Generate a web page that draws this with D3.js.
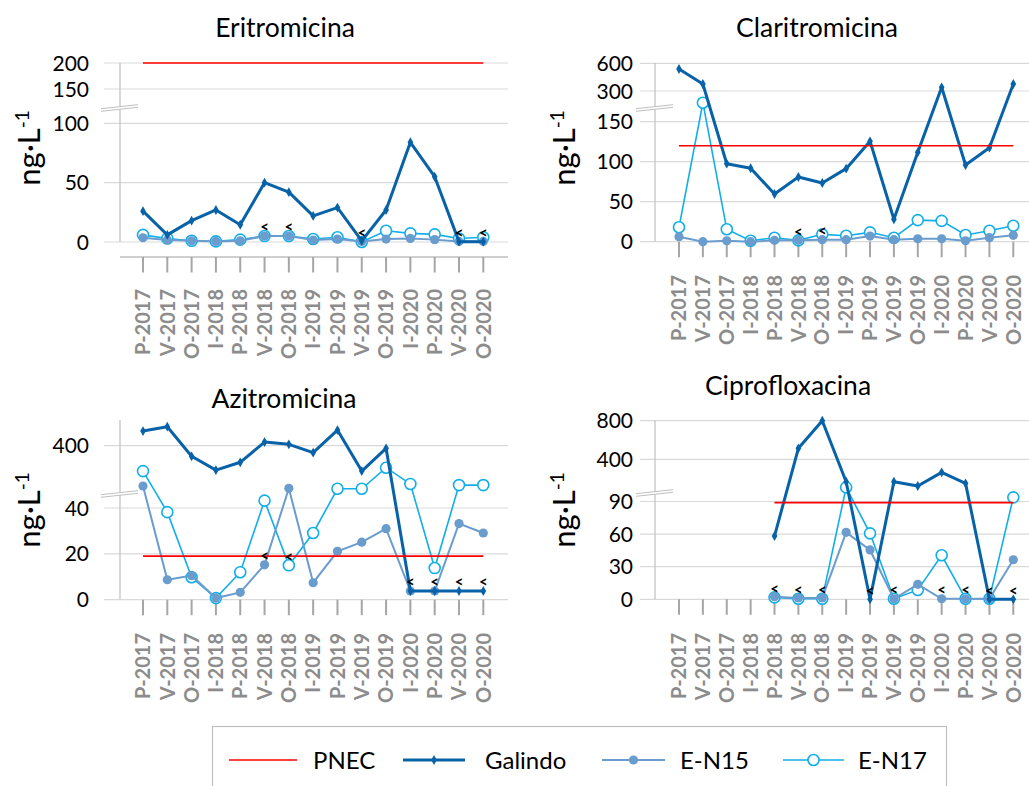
<!DOCTYPE html>
<html>
<head>
<meta charset="utf-8">
<script src="https://cdn.jsdelivr.net/npm/d3@7"></script>
<style>
  body { margin: 0; background: #fff; }
  svg { display: block; }
  text { font-family: Lato, "Noto Sans", sans-serif; }
</style>
</head>
<body>
<svg id="chart" width="1029" height="786"></svg>
<script>
// ---------------- DATA ----------------
const categories = ["P-2017","V-2017","O-2017","I-2018","P-2018","V-2018","O-2018","I-2019","P-2019","V-2019","O-2019","I-2020","P-2020","V-2020","O-2020"];
const seriesNames = ["PNEC", "Galindo", "E-N15", "E-N17"];

const eriGalindo = [26, 6, 18, 27, 14.5, 50, 42, 22, 29, 1, 27, 84, 55, 0.3, 0.3];
const eriEN15    = [3.6, 1.7, 1, 0.5, 1, 5, 5, 1.7, 2.5, 0.5, 2.5, 3, 2, 0.5, 0.5];
const eriEN17    = [6, 3, 1, 0.5, 2, 5, 5, 2.5, 4, 0, 9.5, 7.3, 6.4, 3, 4];
const eriPNEC    = [200, 200, 200, 200, 200, 200, 200, 200, 200, 200, 200, 200, 200, 200, 200];
const eriLT      = [5, 6, 9, 13, 14];
const eriTicksLow = [0, 50, 100];
const eriTicksHigh = [150, 200];

const claGalindo = [538, 376, 97.5, 91.8, 59.6, 80.9, 73.4, 91.3, 125.5, 28, 111.8, 340, 95.9, 117.5, 376];
const claEN15    = [6.2, 0, 1.2, 0, 1.7, 1.7, 2.5, 2.5, 7, 2.5, 3.7, 3.7, 1.2, 5, 8];
const claEN17    = [18, 173, 15.5, 1.2, 5, 1.7, 9.2, 7.5, 11.7, 5, 27, 26, 8.4, 13.7, 20];
const claPNEC    = [120, 120, 120, 120, 120, 120, 120, 120, 120, 120, 120, 120, 120, 120, 120];
const claLT      = [5, 6];
const claTicksLow = [0, 50, 100, 150];
const claTicksHigh = [300, 600];

const aziGalindo = [473, 495, 347, 278, 317, 418, 407, 365, 478, 273, 387, 3.8, 3.8, 3.8, 3.8];
const aziEN15    = [49.6, 8.7, 10.5, 0.7, 3.2, 15.2, 48.6, 7.4, 21.1, 25.1, 31, 3.8, 3.8, 33.2, 29.1];
const aziEN17    = [273, 38.2, 9.8, 0.7, 12, 43.2, 15, 29.1, 48.4, 48.4, 290, 50.5, 13.8, 50, 50];
const aziPNEC    = [19, 19, 19, 19, 19, 19, 19, 19, 19, 19, 19, 19, 19, 19, 19];
const aziLT      = [5, 6, 11, 12, 13, 14];
const aziTicksLow = [0, 20, 40];
const aziTicksHigh = [400];

const ciproGalindo = [null, null, null, null, 58.2, 514, 800, 168, 0, 168, 123, 265, 151, 0, 0];
const ciproEN15    = [null, null, null, null, 2.4, 1.2, 1.2, 61.6, 45.4, 0.5, 13.8, 0.5, 0.5, 0.5, 36.4];
const ciproEN17    = [null, null, null, null, 1.8, 0.5, 0.5, 103, 60.7, 0.5, 8.6, 40.5, 0.5, 0.5, 93.8];
const ciproPNEC    = [null, null, null, null, 89, 89, 89, 89, 89, 89, 89, 89, 89, 89, 89];
const ciproLT      = [4, 5, 6, 8, 9, 11, 12, 13, 14];
const ciproTicksLow = [0, 30, 60, 90];
const ciproTicksHigh = [400, 800];

// ---------------- LAYOUT / STYLE ----------------
const colors = { PNEC: "#ff0000", Galindo: "#0862a8", EN15: "#6a9cce", EN17: "#12aeea" };

const panels = [
  { title: "Eritromicina", titleX: 285, titleY: 27,
    galindo: eriGalindo, en15: eriEN15, en17: eriEN17, pnec: eriPNEC, lt: eriLT,
    ticksLow: eriTicksLow, ticksHigh: eriTicksHigh,
    lo: [0, 100], loR: [242, 123.3], hi: [150, 200], hiR: [89, 63], th: 120,
    axisX: 120, top: 63, zeroY: 242, gridStart: 104, gridEnd: 508, labelRight: 89,
    xRange: [143, 483.3], sepAxisY: 257, catTop: 289, breakY: 108, titleAxisX: 40, titleAxisY: 148 },
  { title: "Claritromicina", titleX: 817, titleY: 27,
    galindo: claGalindo, en15: claEN15, en17: claEN17, pnec: claPNEC, lt: claLT,
    ticksLow: claTicksLow, ticksHigh: claTicksHigh,
    lo: [0, 150], loR: [241.7, 121.7], hi: [300, 600], hiR: [91, 63.3], th: 160,
    axisX: 655, top: 63, zeroY: 241.7, gridStart: 640, gridEnd: 1029, labelRight: 633,
    xRange: [679, 1013.3], sepAxisY: null, catTop: 275, breakY: 108, titleAxisX: 575, titleAxisY: 148 },
  { title: "Azitromicina", titleX: 284, titleY: 398,
    galindo: aziGalindo, en15: aziEN15, en17: aziEN17, pnec: aziPNEC, lt: aziLT,
    ticksLow: aziTicksLow, ticksHigh: aziTicksHigh,
    lo: [0, 40], loR: [599.7, 508], hi: [300, 500], hiR: [465.7, 425.7], th: 100,
    axisX: 120, top: 420, zeroY: 599.7, gridStart: 104, gridEnd: 508, labelRight: 89,
    xRange: [143, 483.3], sepAxisY: null, catTop: 633, breakY: 494, titleAxisX: 40, titleAxisY: 510 },
  { title: "Ciprofloxacina", titleX: 788, titleY: 385,
    galindo: ciproGalindo, en15: ciproEN15, en17: ciproEN17, pnec: ciproPNEC, lt: ciproLT,
    ticksLow: ciproTicksLow, ticksHigh: ciproTicksHigh,
    lo: [0, 90], loR: [599.3, 501.5], hi: [400, 800], hiR: [459.3, 420.7], th: 110,
    axisX: 655, top: 420.7, zeroY: 599.3, gridStart: 640, gridEnd: 1029, labelRight: 633,
    xRange: [679, 1013.3], sepAxisY: null, catTop: 633, breakY: 493, titleAxisX: 575, titleAxisY: 510 }
];

const svg = d3.select("#chart");

panels.forEach(p => {
  const g = svg.append("g");
  const x = d3.scalePoint().domain(categories).range(p.xRange);
  const yLo = d3.scaleLinear().domain(p.lo).range(p.loR);
  const yHi = d3.scaleLinear().domain(p.hi).range(p.hiR);
  const y = v => (v >= p.th ? yHi(v) : yLo(v));

  // gridlines + tick labels
  const ticks = p.ticksLow.map(v => ({ v, py: yLo(v) })).concat(p.ticksHigh.map(v => ({ v, py: yHi(v) })));
  g.selectAll(".grid").data(ticks).join("line")
    .attr("x1", p.gridStart).attr("x2", p.gridEnd)
    .attr("y1", d => d.py).attr("y2", d => d.py)
    .attr("stroke", "#d9d9d9").attr("stroke-width", 1.2);
  g.selectAll(".ytl").data(ticks).join("text")
    .attr("x", p.labelRight).attr("y", d => d.py)
    .attr("dy", "0.36em").attr("text-anchor", "end")
    .attr("font-size", 21).attr("fill", "#000")
    .text(d => d.v);

  // vertical axis
  g.append("line").attr("x1", p.axisX).attr("x2", p.axisX)
    .attr("y1", p.top).attr("y2", p.zeroY)
    .attr("stroke", "#bfbfbf").attr("stroke-width", 1.2);

  // x axis ticks
  const tickTop = p.sepAxisY != null ? p.sepAxisY : p.zeroY;
  if (p.sepAxisY != null) {
    g.append("line").attr("x1", p.axisX).attr("x2", p.gridEnd)
      .attr("y1", p.sepAxisY).attr("y2", p.sepAxisY)
      .attr("stroke", "#bfbfbf").attr("stroke-width", 1.5);
  }
  g.selectAll(".xt").data(categories).join("line")
    .attr("x1", d => x(d)).attr("x2", d => x(d))
    .attr("y1", tickTop).attr("y2", tickTop + 15.5)
    .attr("stroke", "#a6a6a6").attr("stroke-width", 2);
  g.selectAll(".xl").data(categories).join("text")
    .attr("transform", d => `translate(${x(d)},${p.catTop}) rotate(-90)`)
    .attr("text-anchor", "end").attr("dy", "0.36em")
    .attr("font-family", "'Liberation Sans', Arial, sans-serif")
    .attr("font-weight", "bold").attr("font-size", 20).attr("fill", "#8c8c8c")
    .text(d => d);

  // title
  g.append("text").attr("x", p.titleX).attr("y", p.titleY).attr("dy", "0.36em")
    .attr("text-anchor", "middle").attr("font-size", 26.5).text(p.title);

  // y axis title
  const yt = g.append("text")
    .attr("transform", `translate(${p.titleAxisX},${p.titleAxisY}) rotate(-90)`)
    .attr("text-anchor", "middle").attr("font-size", 31);
  yt.append("tspan").text("ng·L");
  yt.append("tspan").attr("dy", "-0.6em").attr("font-size", 19).text("-1");

  const line = d3.line().defined(d => d.v != null).x(d => x(d.c)).y(d => y(d.v));
  const pts = arr => arr.map((v, i) => ({ c: categories[i], v }));

  // E-N17
  g.append("path").datum(pts(p.en17)).attr("d", line)
    .attr("fill", "none").attr("stroke", colors.EN17).attr("stroke-width", 1.6);
  g.selectAll(".m17").data(pts(p.en17).filter(d => d.v != null)).join("circle")
    .attr("cx", d => x(d.c)).attr("cy", d => y(d.v)).attr("r", 5.5)
    .attr("fill", "#fff").attr("stroke", colors.EN17).attr("stroke-width", 1.6);

  // E-N15
  g.append("path").datum(pts(p.en15)).attr("d", line)
    .attr("fill", "none").attr("stroke", colors.EN15).attr("stroke-width", 2);
  g.selectAll(".m15").data(pts(p.en15).filter(d => d.v != null)).join("circle")
    .attr("cx", d => x(d.c)).attr("cy", d => y(d.v)).attr("r", 4.6)
    .attr("fill", colors.EN15);

  // Galindo
  g.append("path").datum(pts(p.galindo)).attr("d", line)
    .attr("fill", "none").attr("stroke", colors.Galindo).attr("stroke-width", 3)
    .attr("stroke-linejoin", "round");
  g.selectAll(".mg").data(pts(p.galindo).filter(d => d.v != null)).join("path")
    .attr("d", d3.symbol().type(d3.symbolDiamond).size(28))
    .attr("transform", d => `translate(${x(d.c)},${y(d.v)})`)
    .attr("fill", colors.Galindo);

  // PNEC
  g.append("path").datum(pts(p.pnec)).attr("d", line)
    .attr("fill", "none").attr("stroke", colors.PNEC).attr("stroke-width", 1.6);

  // "<" below-LOQ markers
  g.selectAll(".lt").data(p.lt).join("text")
    .attr("x", i => x(categories[i]))
    .attr("y", i => {
      const vals = [p.galindo[i], p.en15[i], p.en17[i]].filter(v => v != null);
      return y(d3.min(vals)) - 9;
    })
    .attr("dy", "0.36em").attr("text-anchor", "middle")
    .attr("font-size", 15).attr("font-weight", "bold").attr("fill", "#000")
    .text("<");

  // axis break marker
  const bx0 = p.axisX - 19, bx1 = p.axisX + 18;
  const by0 = p.breakY + 2, by1 = p.breakY - 2;
  g.append("path")
    .attr("d", `M${bx0},${by0 - 1.3}L${bx1},${by1 - 1.3}L${bx1},${by1 + 1.3}L${bx0},${by0 + 1.3}Z`)
    .attr("fill", "#fff");
  [-1.3, 1.3].forEach(o => {
    g.append("line").attr("x1", bx0).attr("y1", by0 + o).attr("x2", bx1).attr("y2", by1 + o)
      .attr("stroke", "#bfbfbf").attr("stroke-width", 1);
  });
});

// ---------------- LEGEND ----------------
const lg = svg.append("g");
lg.append("rect").attr("x", 212.5).attr("y", 726.5).attr("width", 734).attr("height", 80)
  .attr("fill", "#fff").attr("stroke", "#bfbfbf").attr("stroke-width", 1.2);
const legendItems = [
  { name: seriesNames[0], x0: 229, x1: 297, tx: 313, color: colors.PNEC, w: 1.6, marker: null },
  { name: seriesNames[1], x0: 403, x1: 465, tx: 485, color: colors.Galindo, w: 3, marker: "diamond" },
  { name: seriesNames[2], x0: 602, x1: 665, tx: 680, color: colors.EN15, w: 2, marker: "dot" },
  { name: seriesNames[3], x0: 783, x1: 844, tx: 858, color: colors.EN17, w: 1.6, marker: "circle" }
];
const ly = 760;
legendItems.forEach(it => {
  lg.append("line").attr("x1", it.x0).attr("x2", it.x1).attr("y1", ly).attr("y2", ly)
    .attr("stroke", it.color).attr("stroke-width", it.w);
  const cx = (it.x0 + it.x1) / 2;
  if (it.marker === "diamond") {
    lg.append("path").attr("d", d3.symbol().type(d3.symbolDiamond).size(28))
      .attr("transform", `translate(${cx},${ly})`).attr("fill", it.color);
  } else if (it.marker === "dot") {
    lg.append("circle").attr("cx", cx).attr("cy", ly).attr("r", 4.6).attr("fill", it.color);
  } else if (it.marker === "circle") {
    lg.append("circle").attr("cx", cx).attr("cy", ly).attr("r", 5.5)
      .attr("fill", "#fff").attr("stroke", it.color).attr("stroke-width", 1.6);
  }
  lg.append("text").attr("x", it.tx).attr("y", ly).attr("dy", "0.36em")
    .attr("font-size", 24).text(it.name);
});
</script>
</body>
</html>
